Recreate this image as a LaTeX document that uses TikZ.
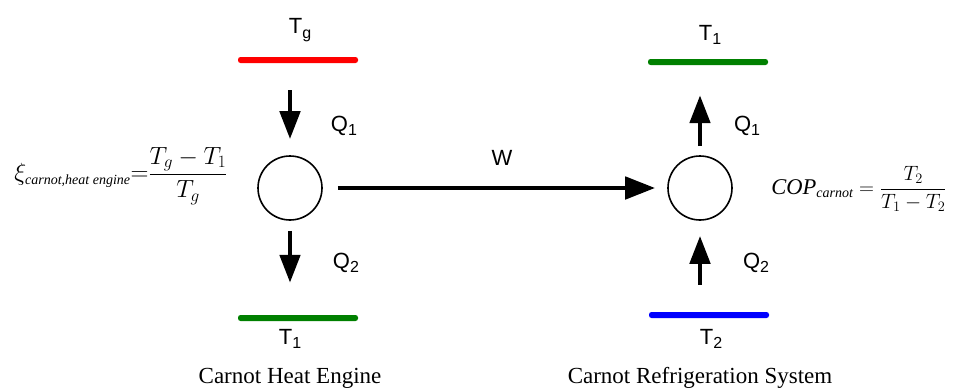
\documentclass[tikz,border=0pt]{standalone}
\usepackage{fontspec}
\setmainfont{Liberation Serif}
\setsansfont{Liberation Sans}
\usetikzlibrary{arrows.meta}

% temperature label with a lowered subscript
\newcommand\tsub[2]{#1\raisebox{-0.38ex}{\fontsize{16}{16}\selectfont #2}}
% italic text subscript for the formulas
\newcommand\isub[1]{\hbox{\fontsize{14}{14}\selectfont\itshape #1}}

\begin{document}
\begin{tikzpicture}[x=1pt,y=-1pt,
  lbl/.style={font=\sffamily\fontsize{22}{26}\selectfont, inner sep=0pt},
  caption/.style={font=\fontsize{23}{27}\selectfont, inner sep=0pt},
  formula/.style={font=\fontsize{24}{28}\selectfont, inner sep=0pt},
  bath/.style={rectangle, rounded corners=2.5pt, minimum width=120pt,
    minimum height=6pt, inner sep=0pt},
  machine/.style={circle, draw, line width=1.6pt, minimum size=64pt, inner sep=0pt},
  flow/.style={line width=4.8pt, -{Triangle[length=28pt,width=20pt]}},
  work/.style={line width=4.8pt, -{Triangle[length=30pt,width=22pt]}},
]
\useasboundingbox (0,0) rectangle (954,391);

% ---------------- heat engine ----------------
\node[bath, fill=red] (hotE) at (298,60) {};
\node[lbl] (tgE) at (300,30) {\tsub{T}{g}};
\node[machine] (engine) at (290,188) {};
\node[bath, fill={rgb,255:red,0;green,128;blue,0}] (coldE) at (298,318) {};
\node[lbl] (t1E) at (290,339) {\tsub{T}{1}};
\node[caption] (capE) at (290,378) {Carnot Heat Engine};

\draw[flow] ([yshift=-27pt]hotE.south -| engine) -- ([yshift=16pt]engine.north);
\draw[flow] ([yshift=-10pt]engine.south) -- ([yshift=32pt]coldE.north -| engine);
\node[lbl] (q1E) at (344,126) {\tsub{Q}{1}};
\node[lbl] (q2E) at (346,263) {\tsub{Q}{2}};

\node[formula] (effE) at (121,176)
  {$\displaystyle\xi_{\isub{carnot,heat engine}}{=}\frac{T_g-T_1}{T_g}$};

% ---------------- refrigerator ----------------
\node[bath, fill={rgb,255:red,0;green,128;blue,0}] (hotR) at (708,62) {};
\node[lbl] (t1R) at (710,35) {\tsub{T}{1}};
\node[machine] (fridge) at (700,188) {};
\node[bath, fill=blue] (coldR) at (709,315) {};
\node[lbl] (t2R) at (711,339) {\tsub{T}{2}};
\node[caption] (capR) at (700,378) {Carnot Refrigeration System};

\draw[flow] ([yshift=9pt]fridge.north) -- ([yshift=-30pt]hotR.south -| fridge);
\draw[flow] ([yshift=27pt]coldR.north -| fridge) -- ([yshift=-15pt]fridge.south);
\node[lbl] (q1R) at (747,126) {\tsub{Q}{1}};
\node[lbl] (q2R) at (756,263) {\tsub{Q}{2}};

\node[formula, font=\fontsize{22.5}{27}\selectfont] (copR) at (859,189)
  {$\displaystyle\mathit{COP}_{\isub{carnot}}=\frac{T_2}{T_1-T_2}$};

% ---------------- work transfer ----------------
\draw[work] ([xshift=15pt]engine.east) -- ([xshift=-12pt]fridge.west);
\node[lbl] (w) at (502,158) {W};
\end{tikzpicture}
\end{document}
